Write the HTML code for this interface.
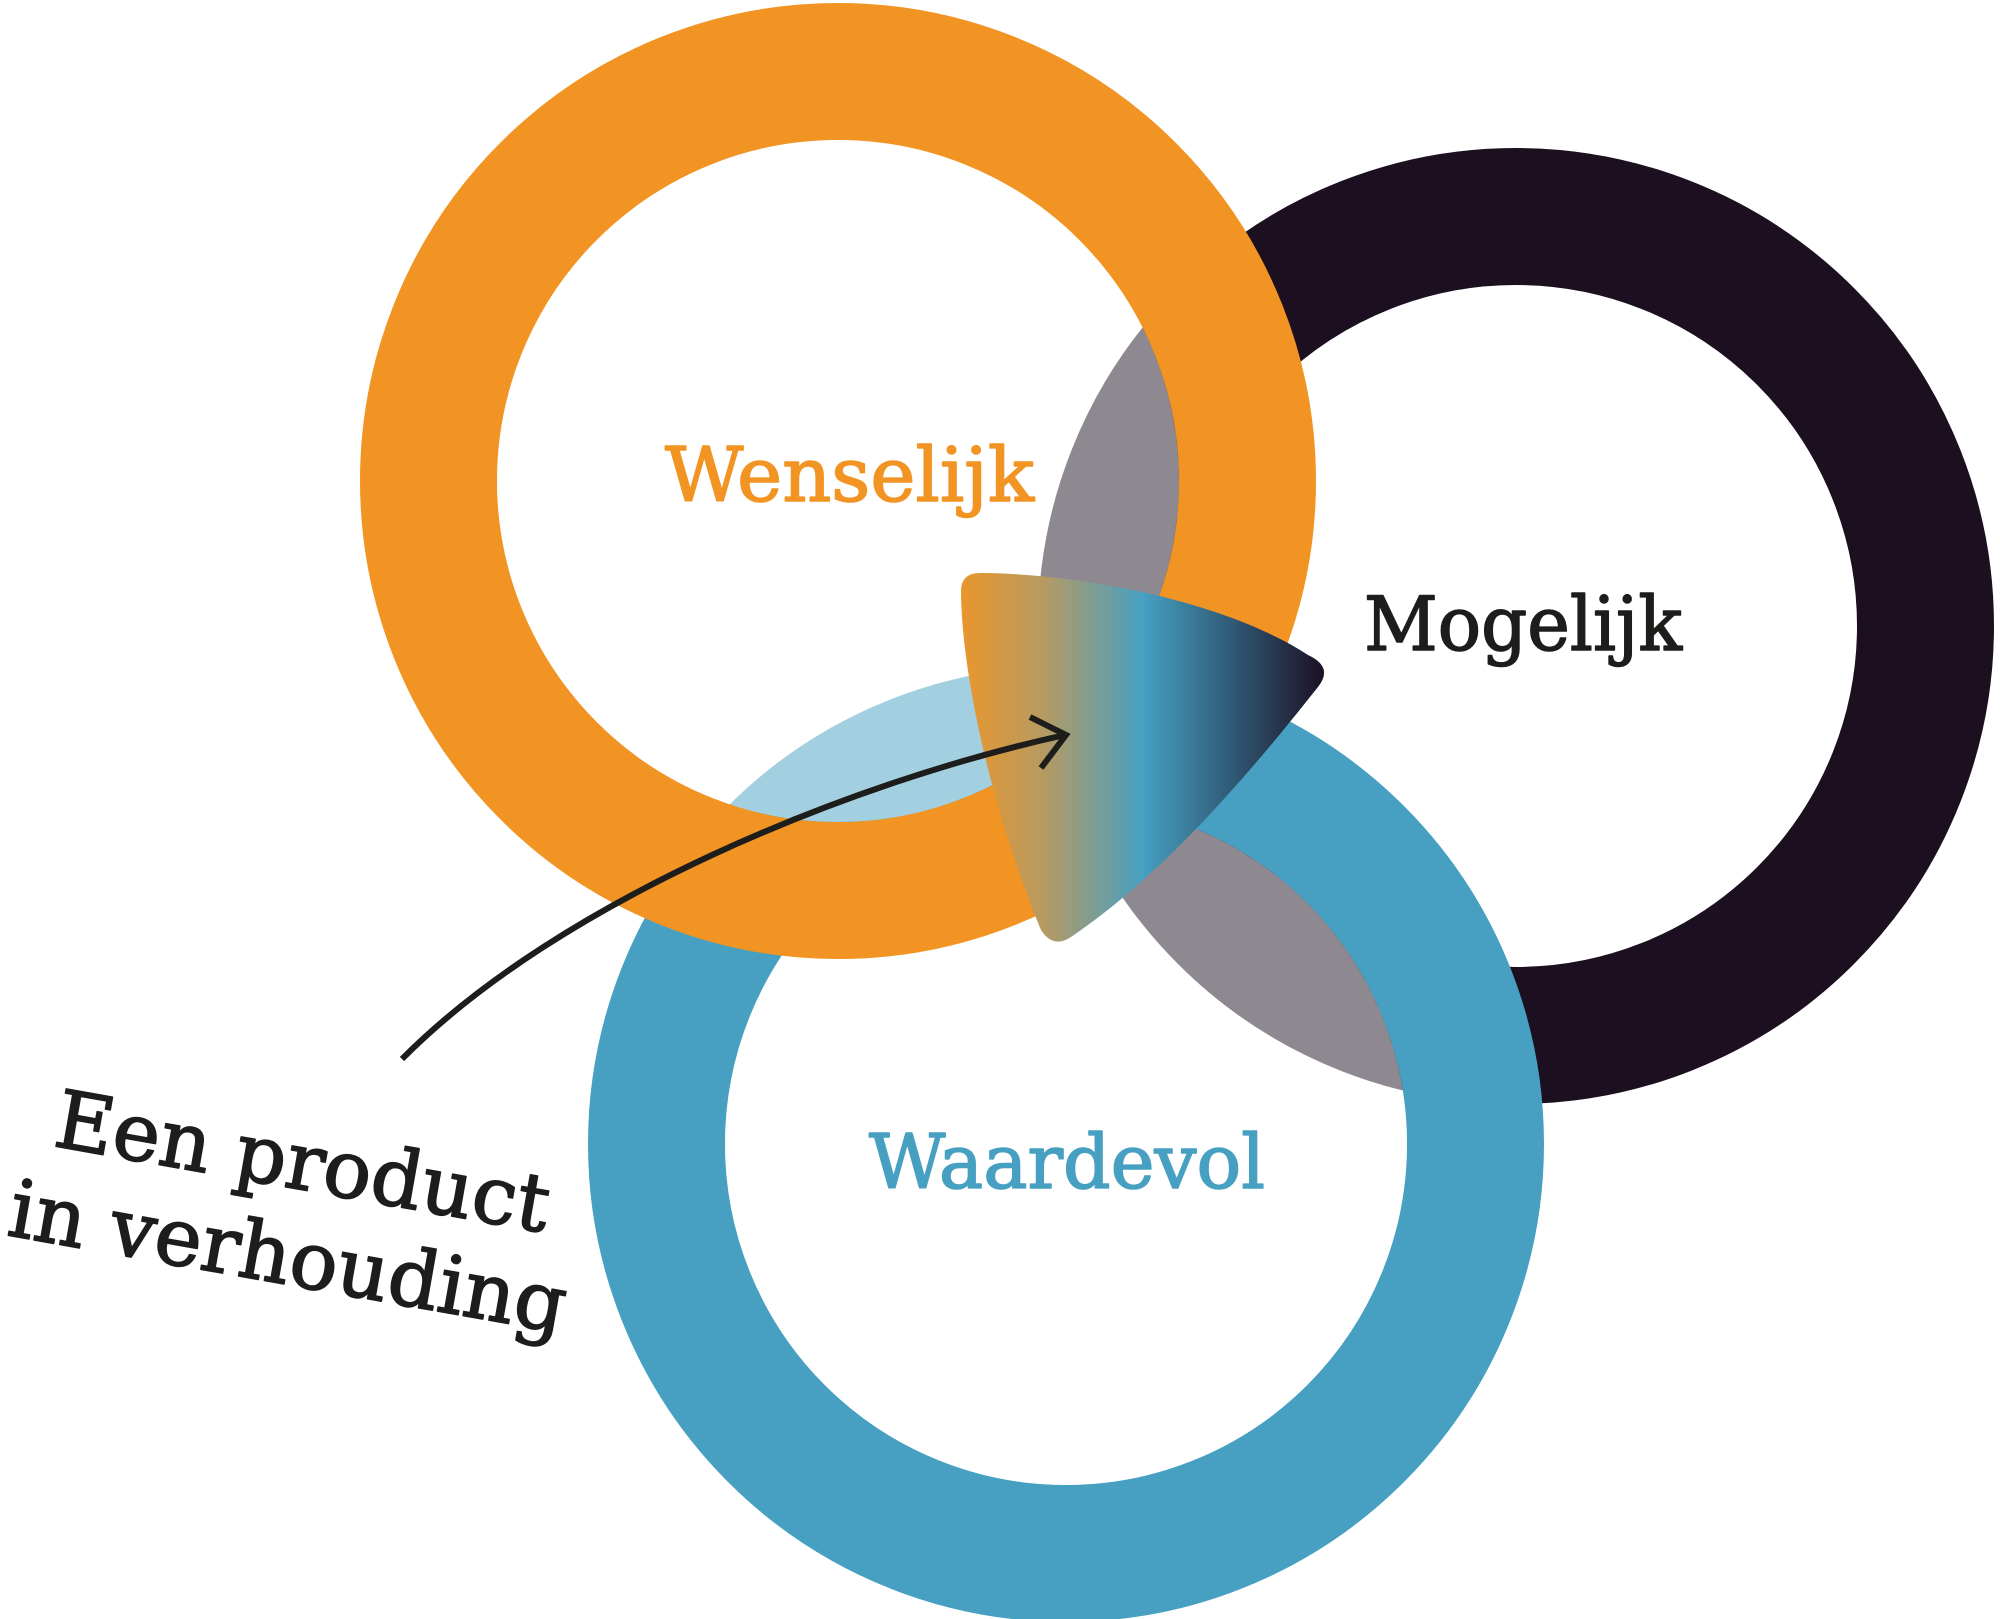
<!DOCTYPE html>
<html>
<head>
<meta charset="utf-8">
<style>
  html, body { margin: 0; padding: 0; background: #ffffff; }
  body { width: 2000px; height: 1619px; overflow: hidden; }
  svg { display: block; }
  text { font-family: "DejaVu Serif", "Liberation Serif", serif; font-style: normal; }
</style>
</head>
<body>
<svg width="2000" height="1619" viewBox="0 0 2000 1619" xmlns="http://www.w3.org/2000/svg">
  <defs>
    <linearGradient id="grad" gradientUnits="userSpaceOnUse" x1="960" y1="0" x2="1326" y2="0">
      <stop offset="0" stop-color="#ea962c"/>
      <stop offset="0.22" stop-color="#b99a5f"/>
      <stop offset="0.5" stop-color="#46a0c2"/>
      <stop offset="0.75" stop-color="#2f5873"/>
      <stop offset="1" stop-color="#1c0f22"/>
    </linearGradient>
  </defs>
  <rect x="0" y="0" width="2000" height="1619" fill="#ffffff"/>

  <!-- dark ring (Mogelijk) -->
  <circle cx="1516" cy="626" r="409.5" fill="none" stroke="#1c1020" stroke-width="137"/>
  <!-- blue ring (Waardevol) -->
  <circle cx="1066" cy="1144" r="409.5" fill="none" stroke="#47a0c1" stroke-width="137"/>
  <circle cx="1066" cy="1144" r="341" fill="#ffffff" fill-opacity="0.5"/>
  <!-- orange ring (Wenselijk) -->
  <circle cx="838" cy="481" r="409.5" fill="none" stroke="#f29423" stroke-width="137"/>
  <circle cx="838" cy="481" r="341" fill="#ffffff" fill-opacity="0.5"/>

  <!-- gradient centre shape -->
  <path d="M 982,573
           C 1090,574 1230,604 1308,655
           Q 1334,667 1318,687
           C 1260,760 1170,870 1071,937
           Q 1053,949 1041,930
           C 995,820 962,680 961,593
           Q 960,572 982,573 Z" fill="url(#grad)"/>

  <!-- labels -->
  <text x="665" y="501" font-size="75" fill="#f29423" stroke="#f29423" stroke-width="1.6" stroke-linejoin="round" textLength="369" lengthAdjust="spacingAndGlyphs">Wenselijk</text>
  <text x="1364" y="650" font-size="75" fill="#1d1d1b" stroke="#1d1d1b" stroke-width="1.6" stroke-linejoin="round" textLength="318" lengthAdjust="spacingAndGlyphs">Mogelijk</text>
  <text x="869" y="1188" font-size="75" fill="#47a0c1" stroke="#47a0c1" stroke-width="1.6" stroke-linejoin="round" textLength="396" lengthAdjust="spacingAndGlyphs">Waardevol</text>

  <!-- rotated caption -->
  <g transform="rotate(10 298 1189)">
    <text x="298" y="1189" font-size="80" fill="#1d1d1b" stroke="#1d1d1b" stroke-width="1.6" stroke-linejoin="round" text-anchor="middle">Een product</text>
    <text x="300" y="1285" font-size="80" fill="#1d1d1b" stroke="#1d1d1b" stroke-width="1.6" stroke-linejoin="round" text-anchor="middle">in verhouding</text>
  </g>

  <!-- arrow -->
  <path d="M 402,1059 C 560,900 850,782 1065,735" fill="none" stroke="#1d1d1b" stroke-width="6"/>
  <polyline points="1030,717 1066,735 1041,768" fill="none" stroke="#1d1d1b" stroke-width="6" stroke-linejoin="miter"/>
</svg>
</body>
</html>
